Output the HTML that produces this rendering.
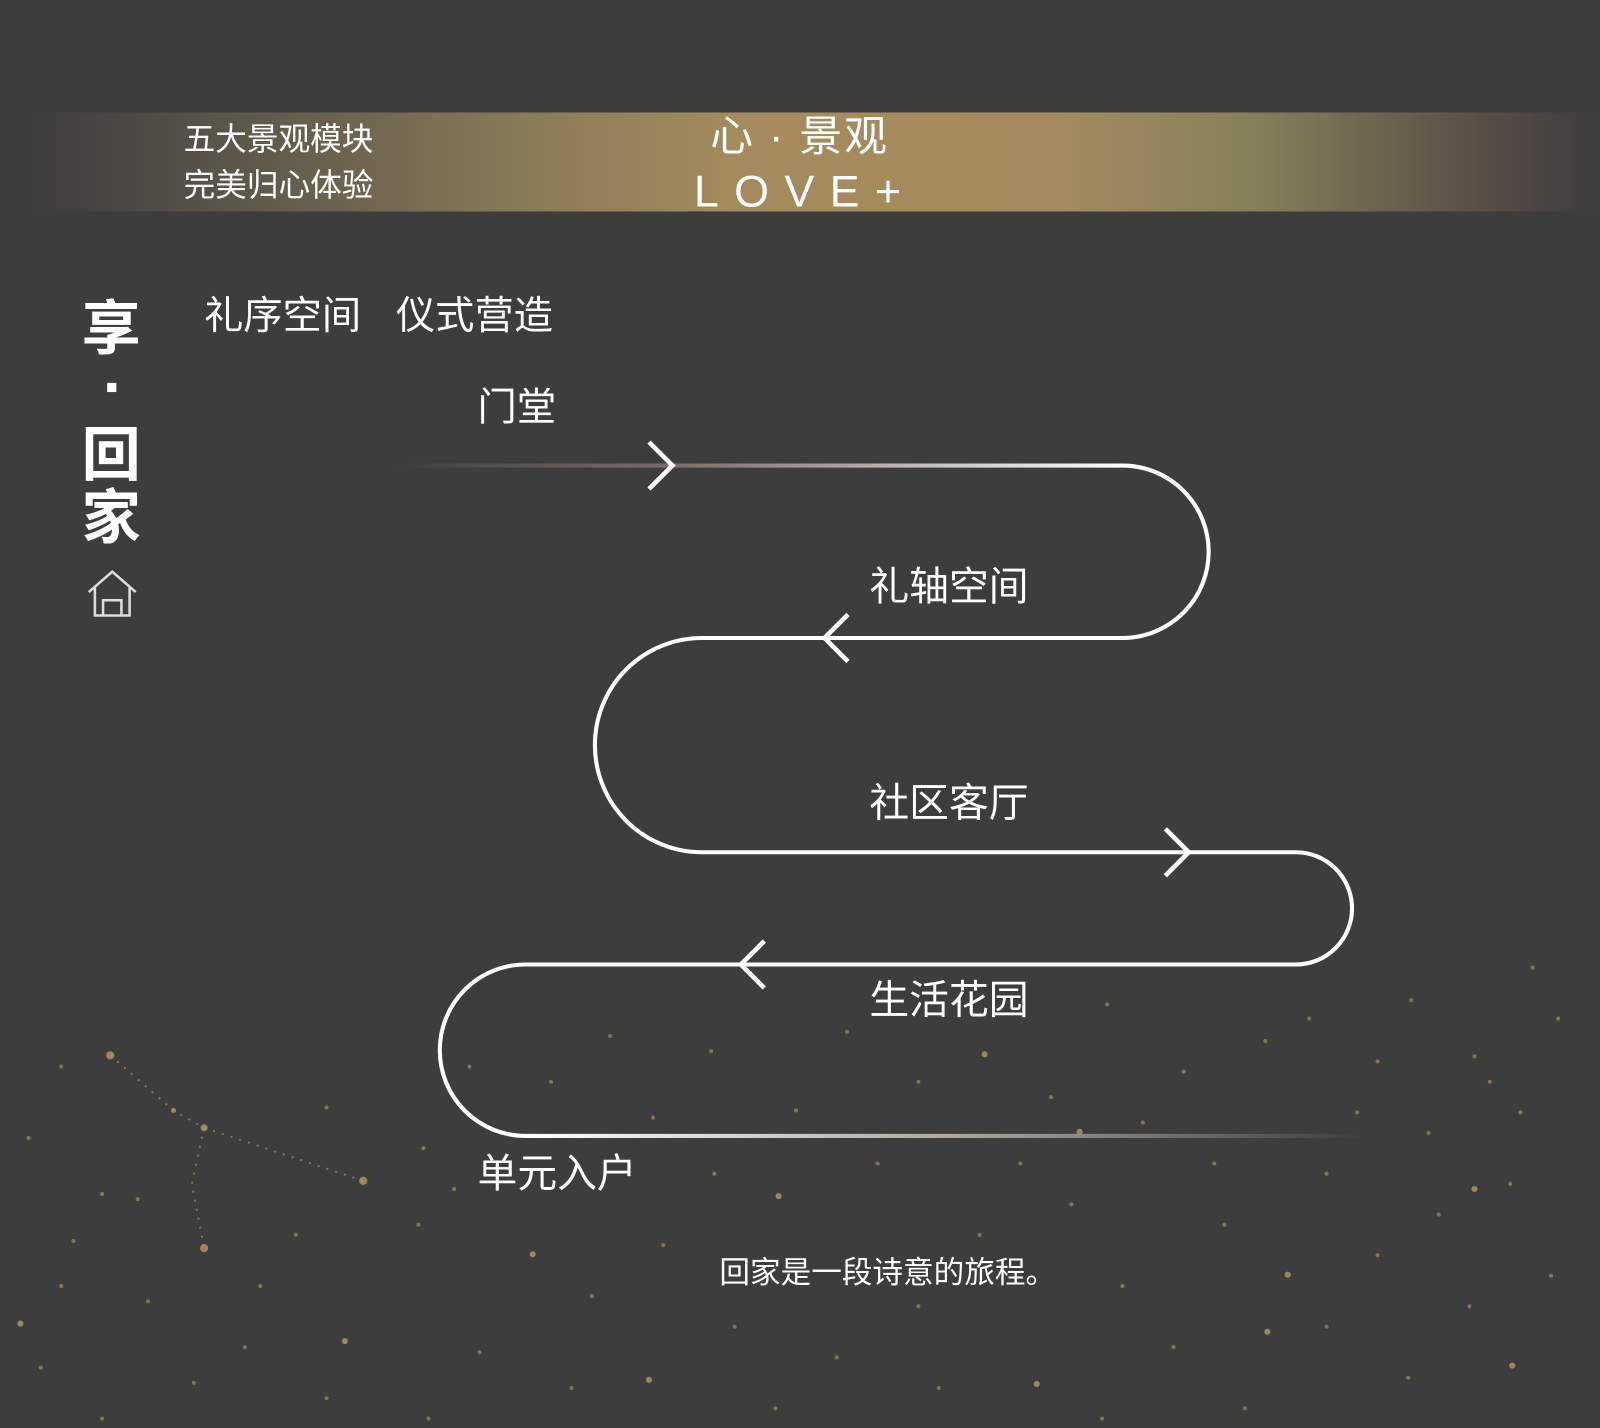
<!DOCTYPE html>
<html><head><meta charset="utf-8"><style>
html,body{margin:0;padding:0;background:#3d3d3d;}
svg{display:block}
text{font-family:"Liberation Sans","Noto Sans CJK SC",sans-serif;fill:#fff}
</style></head><body>
<svg width="1600" height="1428" viewBox="0 0 1568 1399" xmlns="http://www.w3.org/2000/svg">
<defs>
<linearGradient id="bn" x1="0" x2="1" y1="0" y2="0">
<stop offset="0" stop-color="#3d3d3d"/>
<stop offset="0.12" stop-color="#5a544a"/>
<stop offset="0.32" stop-color="#8a7c58"/>
<stop offset="0.45" stop-color="#a58a5d"/>
<stop offset="0.65" stop-color="#a58a5f"/>
<stop offset="0.78" stop-color="#85805a"/>
<stop offset="0.92" stop-color="#5a4f47"/>
<stop offset="1" stop-color="#3d3d3d"/>
</linearGradient>
<linearGradient id="l1" x1="380" x2="1100" y1="0" y2="0" gradientUnits="userSpaceOnUse">
<stop offset="0" stop-color="#3d3d3d"/>
<stop offset="0.4" stop-color="#7a706a"/>
<stop offset="1" stop-color="#fff"/>
</linearGradient>
<linearGradient id="l2" x1="515" x2="1340" y1="0" y2="0" gradientUnits="userSpaceOnUse">
<stop offset="0" stop-color="#fff"/>
<stop offset="0.5" stop-color="#b0a8a0"/>
<stop offset="1" stop-color="#3d3d3d"/>
</linearGradient>
</defs>
<rect width="1568" height="1399" fill="#3d3d3d"/>
<rect x="30" y="110" width="1538" height="97" fill="url(#bn)"/>
<text x="180" y="147" font-size="31">五大景观模块</text>
<text x="180" y="192" font-size="31">完美归心体验</text>
<text x="696" y="148" font-size="42" letter-spacing="2">心 · 景观</text>
<text x="680" y="202" font-size="44" letter-spacing="15">LOVE+</text>

<text x="80" y="342" font-size="58" font-weight="bold">享</text>
<rect x="105" y="375" width="9" height="9" fill="#fff"/>
<text x="80" y="466" font-size="58" font-weight="bold">回</text>
<text x="80" y="527" font-size="58" font-weight="bold">家</text>
<g fill="none" stroke="#ddd" stroke-width="2.5">
<path d="M87 580 L110 560 L133 580"/>
<path d="M93 575 V603 H127 V575"/>
<path d="M101 603 V588 H119 V603"/>
</g>

<text x="200" y="322" font-size="38.5">礼序空间</text>
<text x="388" y="322" font-size="38.5">仪式营造</text>
<text x="468" y="412" font-size="38.5">门堂</text>
<text x="852" y="588" font-size="39">礼轴空间</text>
<text x="852" y="800" font-size="39">社区客厅</text>
<text x="852" y="993" font-size="39">生活花园</text>
<text x="468" y="1163" font-size="39">单元入户</text>
<text x="705" y="1257" font-size="30">回家是一段诗意的旅程。</text>

<g fill="none" stroke-width="4">
<line x1="380" y1="456" x2="1100" y2="456" stroke="url(#l1)"/>
<path d="M1100 456 A84.5 84.5 0 0 1 1100 625 H688 A105 105 0 0 0 688 835 H1270 A55 55 0 0 1 1270 945 H515 A84 84 0 0 0 515 1113" stroke="#fff"/>
<line x1="515" y1="1113" x2="1340" y2="1113" stroke="url(#l2)"/>
<g stroke="#fff" stroke-width="4.5">
<path d="M636 433 L659 456 L636 479"/>
<path d="M831 602 L808 625 L831 648"/>
<path d="M1142 812 L1165 835 L1142 858"/>
<path d="M749 922 L726 945 L749 968"/>
</g>
</g>

<g fill="#b89a5a" opacity="0.8">
<circle cx="108" cy="1034" r="4"/><circle cx="200" cy="1105" r="3.5"/><circle cx="356" cy="1157" r="4"/><circle cx="200" cy="1223" r="4"/>
<circle cx="170" cy="1088" r="2.5"/><circle cx="965" cy="1033" r="3"/><circle cx="1058" cy="1109" r="3"/><circle cx="1445" cy="1165" r="3"/><circle cx="1262" cy="1249" r="3"/><circle cx="1242" cy="1305" r="3"/><circle cx="763" cy="1172" r="3"/><circle cx="522" cy="1229" r="3"/><circle cx="338" cy="1314" r="3"/><circle cx="636" cy="1352" r="3"/><circle cx="1482" cy="1338" r="3"/><circle cx="20" cy="1297" r="3"/><circle cx="1016" cy="1356" r="3"/>
</g>
<g fill="#b89a5a" opacity="0.6">
<path d="M108 1034 L170 1088 L200 1105 L356 1157 M200 1105 L188 1160 L200 1223" stroke="#b89a5a" stroke-width="2" stroke-dasharray="2 7" fill="none"/>
<circle cx="598" cy="1015" r="2"/><circle cx="697" cy="1030" r="2"/><circle cx="830" cy="1011" r="2"/><circle cx="1085" cy="984" r="2"/><circle cx="1283" cy="998" r="2"/><circle cx="1502" cy="948" r="2"/><circle cx="1527" cy="998" r="2"/><circle cx="1383" cy="980" r="2"/><circle cx="1445" cy="1035" r="2"/><circle cx="1240" cy="1020" r="2"/><circle cx="1160" cy="1050" r="2"/><circle cx="1030" cy="1075" r="2"/><circle cx="900" cy="1060" r="2"/><circle cx="780" cy="1088" r="2"/><circle cx="640" cy="1095" r="2"/><circle cx="540" cy="1060" r="2"/><circle cx="460" cy="1045" r="2"/><circle cx="1330" cy="1090" r="2"/><circle cx="1400" cy="1110" r="2"/><circle cx="1490" cy="1090" r="2"/><circle cx="60" cy="1045" r="2"/><circle cx="28" cy="1115" r="2"/><circle cx="135" cy="1175" r="2"/><circle cx="100" cy="1170" r="2"/><circle cx="72" cy="1216" r="2"/><circle cx="320" cy="1085" r="2"/><circle cx="415" cy="1125" r="2"/><circle cx="445" cy="1165" r="2"/><circle cx="410" cy="1200" r="2"/><circle cx="290" cy="1210" r="2"/><circle cx="255" cy="1260" r="2"/><circle cx="145" cy="1275" r="2"/><circle cx="60" cy="1260" r="2"/><circle cx="40" cy="1340" r="2"/><circle cx="190" cy="1355" r="2"/><circle cx="320" cy="1370" r="2"/><circle cx="470" cy="1325" r="2"/><circle cx="580" cy="1270" r="2"/><circle cx="650" cy="1220" r="2"/><circle cx="720" cy="1300" r="2"/><circle cx="820" cy="1330" r="2"/><circle cx="900" cy="1280" r="2"/><circle cx="960" cy="1210" r="2"/><circle cx="1050" cy="1180" r="2"/><circle cx="1100" cy="1260" r="2"/><circle cx="1150" cy="1320" r="2"/><circle cx="1200" cy="1200" r="2"/><circle cx="1300" cy="1150" r="2"/><circle cx="1350" cy="1230" r="2"/><circle cx="1410" cy="1190" r="2"/><circle cx="1480" cy="1160" r="2"/><circle cx="1520" cy="1250" r="2"/><circle cx="1440" cy="1280" r="2"/><circle cx="1380" cy="1350" r="2"/><circle cx="1300" cy="1300" r="2"/><circle cx="1220" cy="1380" r="2"/><circle cx="1080" cy="1390" r="2"/><circle cx="920" cy="1360" r="2"/><circle cx="760" cy="1380" r="2"/><circle cx="560" cy="1360" r="2"/><circle cx="420" cy="1390" r="2"/><circle cx="240" cy="1320" r="2"/><circle cx="100" cy="1390" r="2"/><circle cx="1000" cy="1140" r="2"/><circle cx="860" cy="1140" r="2"/><circle cx="700" cy="1150" r="2"/><circle cx="1120" cy="1100" r="2"/><circle cx="1190" cy="1140" r="2"/><circle cx="1460" cy="1060" r="2"/><circle cx="1350" cy="1040" r="2"/>
</g>
</svg>
</body></html>
